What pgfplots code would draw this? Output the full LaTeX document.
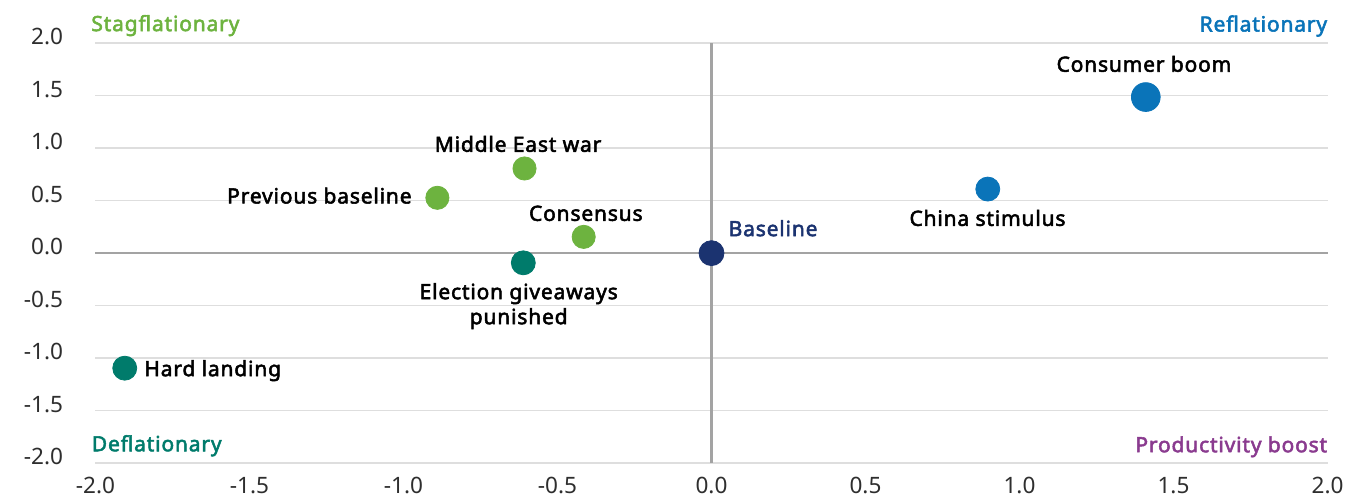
\documentclass[border=0pt]{standalone}
\usepackage{fontspec}
\setmainfont{Noto Sans}[BoldFont={Noto Sans}, BoldFeatures={FakeBold=2.5,LetterSpace=4}]
\usepackage{pgfplots}
\pgfplotsset{compat=1.18}
\definecolor{cgreen}{HTML}{6DB33F}
\definecolor{cteal}{HTML}{007B6B}
\definecolor{cblue}{HTML}{0A74B9}
\definecolor{cnavy}{HTML}{1B3370}
\definecolor{cpurple}{HTML}{8A3B8F}
\begin{document}
\begin{tikzpicture}
\begin{axis}[
  scale only axis, width=616.5pt, height=210.25pt,
  xmin=-2, xmax=2, ymin=-2, ymax=2,
  axis line style={draw=none},
  major tick length=0pt,
  xtick={-2,-1.5,-1,-0.5,0,0.5,1,1.5,2},
  ytick={-2,-1.5,-1,-0.5,0,0.5,1,1.5,2},
  xticklabels={-2.0,-1.5,-1.0,-0.5,0.0,0.5,1.0,1.5,2.0},
  yticklabels={-2.0,-1.5,-1.0,-0.5,0.0,0.5,1.0,1.5,2.0},
  ymajorgrids, xmajorgrids=false,
  grid style={color=black!13, line width=0.75pt},
  tick label style={font=\fontsize{11.3}{13}\selectfont, text=black!82},
  x tick label style={anchor=north, inner sep=0pt, yshift=-6.75pt},
  y tick label style={anchor=base east, inner sep=0pt, xshift=-16pt, yshift=-0.75pt},
  clip=false,
]
\path (axis cs:-2.310,-2.324) rectangle (axis cs:2.060,2.41);
\draw[black!36, line width=1.1pt] (axis cs:-2,0) -- (axis cs:2,0);
\draw[black!36, line width=1.1pt] (axis cs:0,-2) -- (axis cs:0,2);

\addplot[only marks, mark=*, mark size=5.8pt, color=cgreen, mark options={draw=none, fill=cgreen}] coordinates {(-0.607,0.806) (-0.89,0.527) (-0.415,0.155)};
\addplot[only marks, mark=*, mark size=6pt, color=cteal, mark options={draw=none, fill=cteal}] coordinates {(-0.611,-0.092) (-1.905,-1.095)};
\addplot[only marks, mark=*, mark size=6pt, color=cblue, mark options={draw=none, fill=cblue}] coordinates {(0.897,0.61)};
\addplot[only marks, mark=*, mark size=7.2pt, color=cblue, mark options={draw=none, fill=cblue}] coordinates {(1.41,1.486)};
\addplot[only marks, mark=*, mark size=6.25pt, color=cnavy, mark options={draw=none, fill=cnavy}] coordinates {(0,0)};

\tikzset{lab/.style={font=\fontsize{10.5}{12}\selectfont\bfseries, inner sep=0pt}}
\node[lab, anchor=base west, text=cgreen] at (axis cs:-2.0146,2.114) {Stagflationary};
\node[lab, anchor=base east, text=cblue] at (axis cs:2.0,2.11) {Reflationary};
\node[lab, anchor=base west, text=cteal] at (axis cs:-2.013,-1.886) {Deflationary};
\node[lab, anchor=base east, text=cpurple] at (axis cs:2.0,-1.895) {Productivity boost};

\node[lab, anchor=base] at (axis cs:1.404,1.727) {Consumer boom};
\node[lab, anchor=base] at (axis cs:0.896,0.26) {China stimulus};
\node[lab, anchor=base west, text=cnavy] at (axis cs:0.0545,0.162) {Baseline};
\node[lab, anchor=base] at (axis cs:-0.408,0.3076) {Consensus};
\node[lab, anchor=base] at (axis cs:-0.628,0.965) {Middle East war};
\node[lab, anchor=base east] at (axis cs:-0.9724,0.473) {Previous baseline};
\node[lab, anchor=base] at (axis cs:-0.626,-0.438) {Election giveaways};
\node[lab, anchor=base] at (axis cs:-0.626,-0.676) {punished};
\node[lab, anchor=base west] at (axis cs:-1.8425,-1.171) {Hard landing};
\end{axis}
\end{tikzpicture}
\end{document}
